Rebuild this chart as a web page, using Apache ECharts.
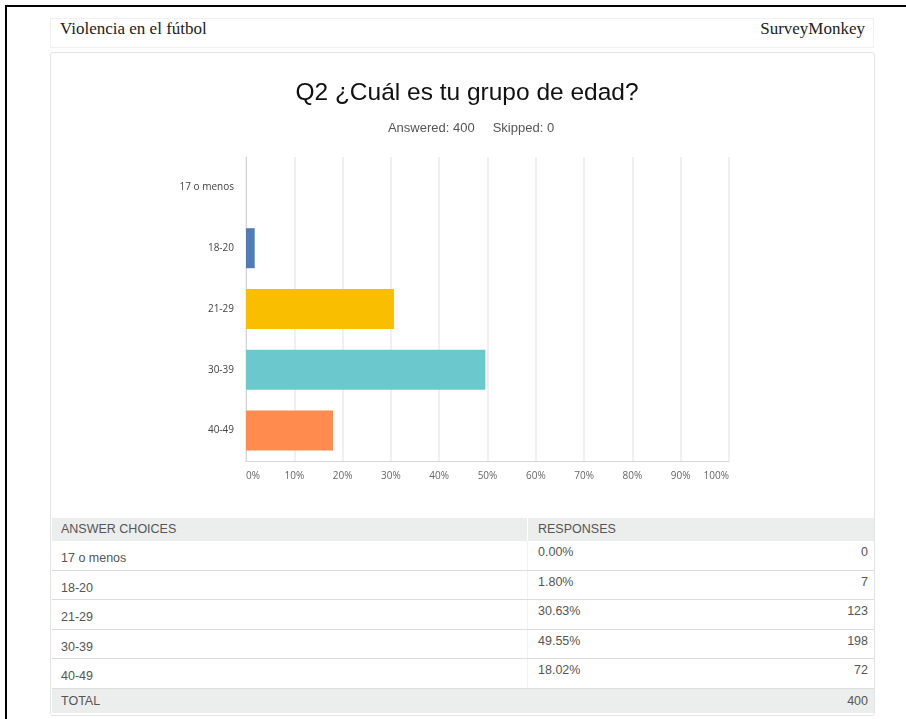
<!DOCTYPE html>
<html>
<head>
<meta charset="utf-8">
<script src="https://cdn.jsdelivr.net/npm/echarts@6/dist/echarts.min.js"></script>
<style>
  html, body { margin: 0; padding: 0; background: #fff; }
  #page { position: relative; width: 906px; height: 719px; overflow: hidden; }
  .frame-top { position: absolute; left: 5px; top: 5px; width: 901px; height: 2px; background: #000; }
  .frame-left { position: absolute; left: 5px; top: 5px; width: 2px; height: 714px; background: #000; }
  .header {
    position: absolute; left: 50px; top: 18px; width: 824px; height: 30px;
    border: 1px solid #f0f0f0; box-sizing: border-box;
    font-family: "Liberation Serif", serif; font-size: 17px; color: #222;
  }
  .header .l { position: absolute; left: 9px; top: 0px; }
  .header .r { position: absolute; right: 8px; top: 0px; }
  .card {
    position: absolute; left: 50px; top: 52px; width: 825px; height: 664px;
    border: 1px solid #e4e4e4; border-radius: 3px; box-sizing: border-box;
  }
  #chart { position: absolute; left: 0; top: 0; width: 906px; height: 505px; }
  .tbl { position: absolute; left: 52px; top: 518px; width: 822px; font-family: "Liberation Sans", Arial, sans-serif; font-size: 12.5px; color: #555; }
  .row { position: absolute; left: 0; width: 822px; box-sizing: border-box; }
  .cell { position: absolute; white-space: nowrap; }
  .head { background: #eceded; }
  .sep { position: absolute; left: 475px; top: 0; bottom: 0; width: 1px; background: #fff; }
  .vline { position: absolute; left: 475px; top: 0; bottom: 0; width: 1px; background: #f2f2f2; }
</style>
</head>
<body>
<div id="page">
  <div class="frame-top"></div>
  <div class="frame-left"></div>
  <div class="header"><span class="l">Violencia en el fútbol</span><span class="r">SurveyMonkey</span></div>
  <div class="card"></div>
  <div id="chart"></div>
  <div class="tbl" id="tbl"></div>
</div>
<script>
const categories = ['17 o menos', '18-20', '21-29', '30-39', '40-49']
const percentValues = [0, 1.80, 30.63, 49.55, 18.02]
const responseCounts = [0, 7, 123, 198, 72]
const barColors = ['#00BF6F', '#507CB6', '#F9BE00', '#6BC8CD', '#FF8B4F']
const totalAnswered = 400
const totalSkipped = 0

var myChart = echarts.init(document.getElementById('chart'))
myChart.setOption({
  animation: false,
  title: [
    {
      text: 'Q2 ¿Cuál es tu grupo de edad?',
      left: 462,
      top: 76,
      textAlign: 'center',
      textStyle: { fontFamily: 'Liberation Sans', fontSize: 24.5, fontWeight: 'normal', color: '#111' }
    },
    {
      text: 'Answered: ' + totalAnswered + '     Skipped: ' + totalSkipped,
      left: 466,
      top: 117,
      textAlign: 'center',
      textStyle: { fontFamily: 'Liberation Sans', fontSize: 13, fontWeight: 'normal', color: '#555' }
    }
  ],
  grid: { left: 246, top: 157, width: 483, height: 304, containLabel: false },
  xAxis: {
    type: 'value',
    min: 0,
    max: 100,
    interval: 10,
    axisLine: { show: true, lineStyle: { color: '#d6d6d6' } },
    axisTick: { show: false },
    splitLine: { show: true, lineStyle: { color: '#ebebeb', width: 1.5 } },
    axisLabel: {
      formatter: '{value}%',
      margin: 10,
      fontFamily: 'Open Sans',
      fontSize: 10,
      color: '#666',
      alignMinLabel: 'left',
      alignMaxLabel: 'right'
    }
  },
  yAxis: {
    type: 'category',
    inverse: true,
    data: categories,
    axisLine: { show: true, lineStyle: { color: '#d6d6d6' } },
    axisTick: { show: false },
    axisLabel: { margin: 12, fontFamily: 'Open Sans', fontSize: 10, color: '#444' }
  },
  series: [
    {
      type: 'bar',
      barWidth: 40,
      data: percentValues.map((v, i) => ({ value: v, itemStyle: { color: barColors[i] } }))
    }
  ]
})

// table under the chart
const tbl = document.getElementById('tbl')
function addRow(top, height, cls, html) {
  const r = document.createElement('div')
  r.className = 'row ' + cls
  r.style.top = top + 'px'
  r.style.height = height + 'px'
  r.innerHTML = html
  tbl.appendChild(r)
}
addRow(0, 23, 'head',
  '<div class="sep"></div>' +
  '<span class="cell" style="left:9px;top:4px">ANSWER CHOICES</span>' +
  '<span class="cell" style="left:486px;top:4px">RESPONSES</span>')
const rowH = 29.6
categories.forEach((c, i) => {
  const pct = percentValues[i].toFixed(2) + '%'
  addRow(23 + i * rowH, rowH, '',
    '<div class="vline"></div>' +
    '<span class="cell" style="left:9px;top:10px">' + c + '</span>' +
    '<span class="cell" style="left:486px;top:4px">' + pct + '</span>' +
    '<span class="cell" style="right:6px;top:4px">' + responseCounts[i] + '</span>' +
    '<div style="position:absolute;left:0;right:0;bottom:0;height:1px;background:#dcdcdc"></div>')
})
addRow(171, 24, 'head',
  '<span class="cell" style="left:9px;top:5px">TOTAL</span>' +
  '<span class="cell" style="right:6px;top:5px">' + responseCounts.reduce((a, b) => a + b, 0) + '</span>')
</script>
</body>
</html>
